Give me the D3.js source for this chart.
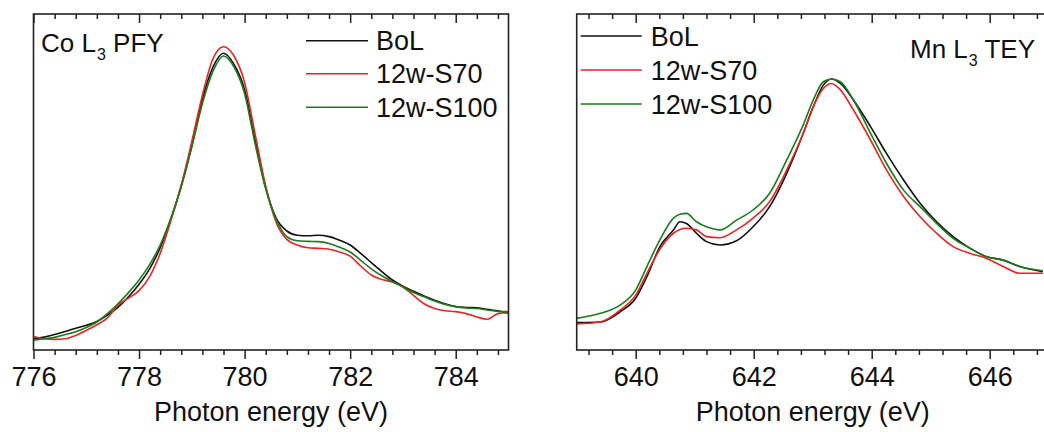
<!DOCTYPE html>
<html><head><meta charset="utf-8">
<script src="https://cdn.jsdelivr.net/npm/d3@7"></script>
<style>
html,body{margin:0;padding:0;background:#fff;}
svg{display:block;font-family:"Liberation Sans",Arial,sans-serif;}
</style></head>
<body>
<svg id="chart" width="1044" height="432"></svg>
<script>
// ---------- data ----------
const seriesNames = ["BoL", "12w-S70", "12w-S100"];
const seriesColors = ["#111111", "#ee2222", "#1a7d1a"];

const coEnergy = [776.0,776.2,776.4,776.6,776.8,777.0,777.2,777.4,777.6,777.8,778.0,778.2,778.4,778.6,778.8,779.0,779.2,779.4,779.6,779.8,780.0,780.2,780.4,780.6,780.8,781.0,781.2,781.4,781.6,781.8,782.0,782.2,782.4,782.6,782.8,783.0,783.2,783.4,783.6,783.8,784.0,784.2,784.4,784.6,784.8,785.0];
const coBoL  = [0.040,0.046,0.055,0.066,0.078,0.088,0.102,0.125,0.152,0.190,0.235,0.290,0.365,0.465,0.585,0.730,0.895,1.010,1.060,1.020,0.930,0.750,0.580,0.470,0.425,0.410,0.408,0.410,0.405,0.392,0.375,0.345,0.312,0.280,0.250,0.228,0.210,0.193,0.178,0.165,0.155,0.152,0.151,0.145,0.140,0.131];
const coS70  = [0.048,0.040,0.038,0.040,0.052,0.070,0.090,0.115,0.160,0.185,0.212,0.262,0.345,0.460,0.590,0.745,0.910,1.040,1.083,1.050,0.955,0.770,0.585,0.455,0.395,0.375,0.365,0.363,0.360,0.350,0.335,0.300,0.268,0.252,0.243,0.225,0.195,0.165,0.148,0.140,0.137,0.130,0.118,0.110,0.130,0.133];
const coS100 = [0.035,0.040,0.045,0.055,0.065,0.080,0.100,0.130,0.165,0.205,0.250,0.305,0.375,0.470,0.585,0.725,0.880,0.995,1.050,1.010,0.915,0.735,0.575,0.465,0.405,0.390,0.388,0.387,0.380,0.367,0.350,0.320,0.290,0.265,0.244,0.225,0.205,0.190,0.175,0.163,0.155,0.150,0.148,0.143,0.138,0.137];

const mnEnergy = [639.0,639.4,639.74,640.0,640.19,640.41,640.64,640.75,640.86,641.03,641.2,641.43,641.71,641.99,642.27,642.56,642.84,643.01,643.18,643.32,643.47,643.69,643.98,644.25,644.54,644.82,645.1,645.38,645.67,645.95,646.23,646.51,646.9];
const mnBoL  = [0.098,0.100,0.137,0.185,0.262,0.369,0.429,0.458,0.452,0.417,0.387,0.375,0.390,0.440,0.512,0.631,0.774,0.869,0.946,0.968,0.952,0.893,0.798,0.702,0.607,0.524,0.458,0.405,0.363,0.333,0.321,0.298,0.280];
const mnS70  = [0.093,0.100,0.143,0.196,0.274,0.360,0.417,0.430,0.435,0.429,0.405,0.401,0.429,0.471,0.530,0.643,0.774,0.869,0.934,0.952,0.929,0.857,0.750,0.643,0.548,0.476,0.417,0.369,0.345,0.327,0.298,0.274,0.274];
const mnS100 = [0.113,0.131,0.161,0.214,0.298,0.393,0.471,0.485,0.488,0.458,0.440,0.429,0.464,0.500,0.560,0.679,0.804,0.893,0.958,0.968,0.958,0.893,0.774,0.667,0.571,0.512,0.452,0.399,0.363,0.333,0.321,0.298,0.283];

const coMajorTicks = [776, 778, 780, 782, 784];
const mnMajorTicks = [640, 642, 644, 646];
const xTitle = "Photon energy (eV)";

// ---------- drawing ----------
const svg = d3.select("#chart");
const plotTop = 14, plotBottom = 350;
const y = d3.scaleLinear().domain([0, 1.2]).range([plotBottom, plotTop]);

function minorTicks(domain, step, majors) {
  const out = [];
  const start = Math.ceil(domain[0] / step - 1e-9);
  const end = Math.floor(domain[1] / step + 1e-9);
  for (let i = start; i <= end; i++) {
    const v = +(i * step).toFixed(4);
    if (!majors.some(m => Math.abs(m - v) < 1e-6)) out.push(v);
  }
  return out;
}

function panel(opts) {
  const x = d3.scaleLinear().domain(opts.domain).range(opts.range);
  const g = svg.append("g");
  const clipId = "clip" + opts.id;
  svg.append("clipPath").attr("id", clipId).append("rect")
    .attr("x", opts.range[0]).attr("y", plotTop)
    .attr("width", opts.range[1] - opts.range[0]).attr("height", plotBottom - plotTop);

  const line = d3.line().x(d => x(d[0])).y(d => y(d[1])).curve(d3.curveMonotoneX);
  const lg = g.append("g").attr("clip-path", `url(#${clipId})`);
  opts.series.forEach((s, i) => {
    const pts = opts.energy.map((e, k) => [e, s[k]]);
    lg.append("path").attr("d", line(pts)).attr("fill", "none")
      .attr("stroke", seriesColors[i]).attr("stroke-width", 1.6)
      .attr("stroke-linejoin", "round");
  });

  const minors = minorTicks(opts.domain, 0.4, opts.majors);
  const bAx = g.append("g").attr("transform", `translate(0,${plotBottom})`);
  bAx.call(d3.axisBottom(x).tickValues(opts.majors).tickSize(9).tickSizeOuter(0).tickPadding(8)
      .tickFormat(d3.format("d")));
  bAx.append("g").call(d3.axisBottom(x).tickValues(minors).tickSize(5).tickSizeOuter(0).tickFormat(""));
  bAx.selectAll(".domain").remove();
  bAx.selectAll("line").attr("stroke", "#222").attr("stroke-width", 1.5);
  bAx.selectAll("text").attr("font-size", 27).attr("fill", "#111")
    .attr("font-family", '"Liberation Sans",Arial,sans-serif');

  const tAx = g.append("g").attr("transform", `translate(0,${plotTop})`);
  tAx.call(d3.axisBottom(x).tickValues(opts.majors).tickSize(9).tickSizeOuter(0).tickFormat(""));
  tAx.append("g").call(d3.axisBottom(x).tickValues(minors).tickSize(5).tickSizeOuter(0).tickFormat(""));
  tAx.selectAll(".domain").remove();
  tAx.selectAll("line").attr("stroke", "#222").attr("stroke-width", 1.5);

  g.append("rect").attr("x", opts.range[0]).attr("y", plotTop)
    .attr("width", opts.range[1] - opts.range[0]).attr("height", plotBottom - plotTop)
    .attr("fill", "none").attr("stroke", "#222").attr("stroke-width", 1.6);

  g.append("text").attr("x", (opts.range[0] + opts.range[1]) / 2).attr("y", 421)
    .attr("text-anchor", "middle").attr("font-size", 27).attr("fill", "#111").text(xTitle);

  seriesNames.forEach((n, i) => {
    const ly = opts.legY[i];
    g.append("line").attr("x1", opts.legX[0]).attr("x2", opts.legX[1])
      .attr("y1", ly).attr("y2", ly).attr("stroke", seriesColors[i]).attr("stroke-width", 1.6);
    g.append("text").attr("x", opts.legX[2]).attr("y", ly + 9.5)
      .attr("font-size", 27).attr("fill", "#111").text(n);
  });

  const t = g.append("text").attr("x", opts.label.x).attr("y", opts.label.y)
    .attr("font-size", 26).attr("fill", "#111");
  t.append("tspan").text(opts.label.parts[0]);
  t.append("tspan").attr("font-size", 16).attr("dy", 8).attr("dx", 1).text(opts.label.parts[1]);
  t.append("tspan").attr("dy", -8).text(opts.label.parts[2]);
}

panel({
  id: "co", domain: [776, 785], range: [33.5, 508.5],
  energy: coEnergy, series: [coBoL, coS70, coS100], majors: coMajorTicks,
  legX: [306, 368, 376], legY: [40.7, 73.8, 107.3],
  label: {x: 41, y: 51.7, parts: ["Co L", "3", " PFY"]}
});
panel({
  id: "mn", domain: [639, 647], range: [576.7, 1048.7],
  energy: mnEnergy, series: [mnBoL, mnS70, mnS100], majors: mnMajorTicks,
  legX: [580.7, 641.7, 650.7], legY: [36, 70, 104],
  label: {x: 910, y: 58.3, parts: ["Mn L", "3", " TEY"]}
});
</script>
</body></html>
